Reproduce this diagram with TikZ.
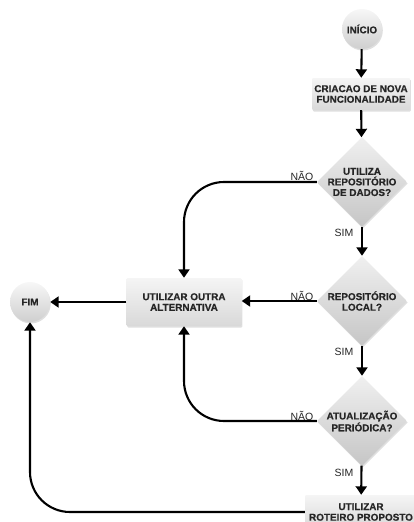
\documentclass[tikz,border=0pt]{standalone}
\usepackage{fontspec}
\setmainfont{Liberation Sans}[BoldFeatures={FakeBold=0.6}]
\usetikzlibrary{shapes.geometric,arrows.meta,shadows}
\begin{document}
\begin{tikzpicture}[x=1pt,y=-1pt,
  every node/.style={font=\bfseries\fontsize{9.9}{10.6}\selectfont, text=black!85, align=center},
  shd/.style={drop shadow={opacity=0.25, shadow xshift=0.8pt, shadow yshift=-1.5pt}},
  circ/.style={circle, minimum size=40pt, inner sep=0pt, top color=gray!6, bottom color=gray!38, shd},
  box/.style={rectangle, rounded corners=1pt, top color=gray!8, bottom color=gray!30, minimum height=32pt, inner sep=0pt, shd},
  dia/.style={diamond, minimum width=90pt, minimum height=90pt, inner sep=-8pt, top color=gray!12, bottom color=gray!45, shd},
  lab/.style={font=\fontsize{10.5}{11}\selectfont, text=black!85},
  ln/.style={line width=2.1pt, rounded corners=40pt},
  arr/.style={ln, -{Triangle[length=8.5pt,width=11pt]}}
]
\useasboundingbox (0,0) rectangle (414,522);

\node[circ] (ini) at (362,29) {INÍCIO};
\node[box, minimum width=98pt] (cria) at (361,94) {CRIACAO DE NOVA\\FUNCIONALIDADE};
\node[dia] (d1) at (362,182) {UTILIZA\\REPOSITÓRIO\\DE DADOS?};
\node[dia] (d2) at (362,301) {REPOSITÓRIO\\LOCAL?};
\node[dia] (d3) at (362,421) {ATUALIZAÇÃO\\PERIÓDICA?};
\node[box, minimum width=115pt, minimum height=48pt] (outra) at (184,302) {UTILIZAR OUTRA\\ALTERNATIVA};
\node[circ] (fim) at (30,302) {FIM};
\node[box, minimum width=112pt, minimum height=34pt] (rot) at (361,512) {UTILIZAR\\ROTEIRO PROPOSTO};

\node[lab] (n1) at (302,176) {NÃO};
\node[lab] (n2) at (302,296) {NÃO};
\node[lab] (n3) at (302,416) {NÃO};
\node[lab] (s1) at (344,233) {SIM};
\node[lab] (s2) at (344,352) {SIM};
\node[lab] (s3) at (344,473) {SIM};

\draw[arr] (ini) -- (cria);
\draw[arr] (cria) -- (d1);
\draw[arr] (d1) -- (d2);
\draw[arr] (d2) -- (d3);
\draw[arr] (d3) -- (rot);
\draw[arr] (d1.west) -| (outra.north);
\draw[arr] (d2.west) -- (d2.west -| outra.east);
\draw[arr] (d3.west) -| (outra.south);
\draw[arr] (outra) -- (fim);
\draw[arr] (rot.west) -| (fim.south);
\end{tikzpicture}
\end{document}
